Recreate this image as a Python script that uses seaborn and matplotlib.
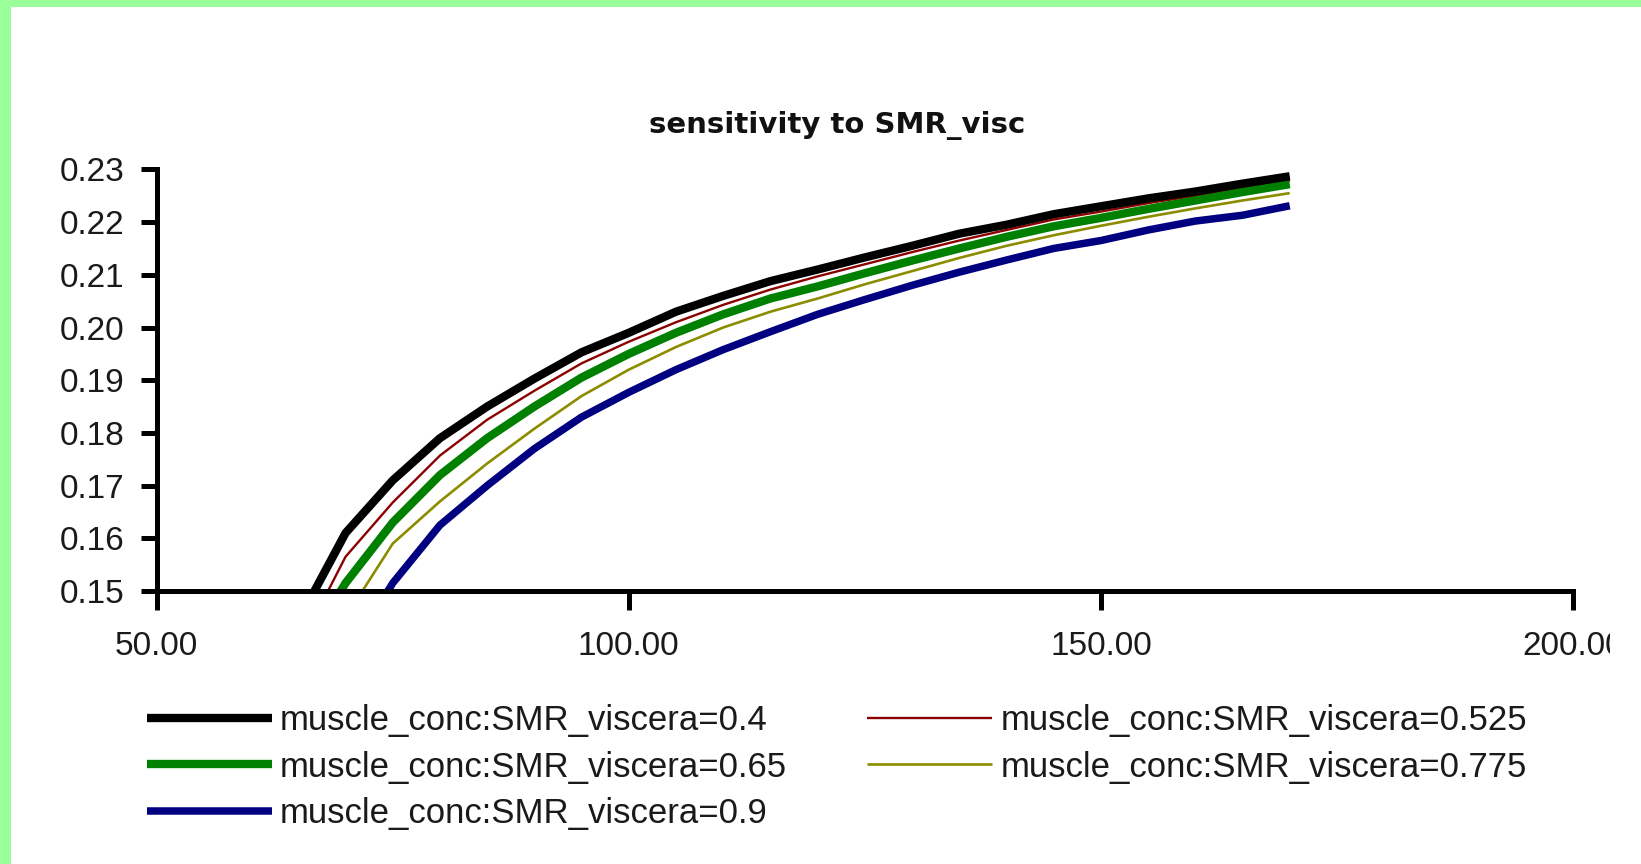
import numpy as np
import pandas as pd
import seaborn as sns
import matplotlib
matplotlib.use("Agg")
import matplotlib.pyplot as plt
from matplotlib.patches import Rectangle

# ---------------- data ----------------
x_vals = [65, 70, 75, 80, 85, 90, 95, 100, 105, 110, 115, 120, 125, 130,
          135, 140, 145, 150, 155, 160, 165, 170]

s_040 = [0.1443, 0.1610, 0.1710, 0.1790, 0.1850, 0.1903, 0.1953, 0.1990, 0.2030,
         0.2060, 0.2088, 0.2110, 0.2133, 0.2155, 0.2178, 0.2195, 0.2215, 0.2230,
         0.2245, 0.2258, 0.2273, 0.2287]
s_0525 = [0.1390, 0.1565, 0.1668, 0.1757, 0.1825, 0.1880, 0.1932, 0.1973, 0.2010,
          0.2043, 0.2072, 0.2097, 0.2120, 0.2143, 0.2165, 0.2185, 0.2205, 0.2220,
          0.2236, 0.2250, 0.2264, 0.2278]
s_065 = [0.1370, 0.1515, 0.1630, 0.1720, 0.1790, 0.1850, 0.1905, 0.1950, 0.1990,
         0.2025, 0.2055, 0.2078, 0.2103, 0.2127, 0.2150, 0.2172, 0.2192, 0.2208,
         0.2225, 0.2241, 0.2257, 0.2272]
s_0775 = [0.1320, 0.1450, 0.1590, 0.1670, 0.1742, 0.1808, 0.1870, 0.1920, 0.1963,
          0.2000, 0.2030, 0.2055, 0.2082, 0.2107, 0.2132, 0.2155, 0.2175, 0.2193,
          0.2210, 0.2226, 0.2241, 0.2255]
s_090 = [0.1250, 0.1370, 0.1515, 0.1625, 0.1700, 0.1770, 0.1830, 0.1877, 0.1920,
         0.1958, 0.1992, 0.2025, 0.2053, 0.2080, 0.2105, 0.2128, 0.2150, 0.2165,
         0.2185, 0.2202, 0.2213, 0.2231]

series_labels = ["muscle_conc:SMR_viscera=0.4", "muscle_conc:SMR_viscera=0.525",
                 "muscle_conc:SMR_viscera=0.65", "muscle_conc:SMR_viscera=0.775",
                 "muscle_conc:SMR_viscera=0.9"]
series_values = [s_040, s_0525, s_065, s_0775, s_090]

x_ticks = [50, 100, 150, 200]
y_ticks = [0.15, 0.16, 0.17, 0.18, 0.19, 0.20, 0.21, 0.22, 0.23]
title_text = "sensitivity to SMR_visc"

# ---------------- style ----------------
colors = ["#000000", "#8b0000", "#008000", "#8c8c00", "#000080"]
widths = [6.0, 1.7, 6.0, 1.9, 5.4]

sns.set_style("white")
plt.rcParams["font.family"] = ["Liberation Sans", "DejaVu Sans"]

W, H = 1641, 864
fig = plt.figure(figsize=(W / 100, H / 100), dpi=100)
fig.patch.set_facecolor("white")

ax = fig.add_axes([156.7 / W, 1 - 591 / H, (1573 - 156.7) / W, (591 - 169.4) / H])

df = pd.DataFrame({"x": np.repeat([x_vals], len(series_labels), axis=0).ravel(),
                   "y": np.concatenate(series_values),
                   "series": np.repeat(series_labels, len(x_vals))})

draw_order = [1, 3, 4, 2, 0]
handles = {}
for i in draw_order:
    lab = series_labels[i]
    sub = df[df["series"] == lab]
    sns.lineplot(data=sub, x="x", y="y", ax=ax, color=colors[i], linewidth=widths[i],
                 label=lab, legend=False, solid_capstyle="butt", solid_joinstyle="round")
    handles[lab] = ax.lines[-1]

ax.set_xlim(50, 200)
ax.set_ylim(0.15, 0.23)
ax.set_xticks(x_ticks)
ax.set_xticklabels([f"{v:.2f}" for v in x_ticks])
ax.set_yticks(y_ticks)
ax.set_yticklabels([f"{v:.2f}" for v in y_ticks])
ax.set_xlabel("")
ax.set_ylabel("")

for side in ["top", "right"]:
    ax.spines[side].set_visible(False)
for side in ["left", "bottom"]:
    ax.spines[side].set_linewidth(3.6)
    ax.spines[side].set_color("black")
    ax.spines[side].set_zorder(5)

ax.tick_params(axis="x", direction="out", length=14, width=3.6, pad=15,
               labelsize=24, labelcolor="#1a1a1a", color="black", bottom=True)
ax.tick_params(axis="y", direction="out", length=11.5, width=3.6, pad=12,
               labelsize=24, labelcolor="#1a1a1a", color="black", left=True)
ax.grid(False)

fig.text(837 / W, 1 - 133 / H, title_text, ha="center", va="baseline",
         fontsize=21, fontweight="bold", family="DejaVu Sans", color="#111111")

# legend (row-wise order like the reference)
order = [0, 2, 4, 1, 3]
leg = fig.legend([handles[series_labels[i]] for i in order],
                 [series_labels[i] for i in order],
                 loc="upper left", bbox_to_anchor=(146.5 / W, 1 - 704 / H),
                 ncol=2, frameon=False, fontsize=25, handlelength=3.6,
                 handletextpad=0.25, columnspacing=2.3, labelspacing=0.39,
                 borderpad=0, borderaxespad=0)
for t in leg.get_texts():
    t.set_color("#1a1a1a")

# green frame on left and top, clipped right edge
fig.add_artist(Rectangle((0, 0), 11 / W, 1, transform=fig.transFigure,
                         facecolor="#99ff99", edgecolor="none", zorder=20))
fig.add_artist(Rectangle((0, 1 - 7 / H), 1, 7 / H, transform=fig.transFigure,
                         facecolor="#99ff99", edgecolor="none", zorder=20))
fig.add_artist(Rectangle((1610 / W, 0), (W - 1610) / W, 1 - 7 / H,
                         transform=fig.transFigure, facecolor="white",
                         edgecolor="none", zorder=19))

fig.savefig("out.png", dpi=100)
